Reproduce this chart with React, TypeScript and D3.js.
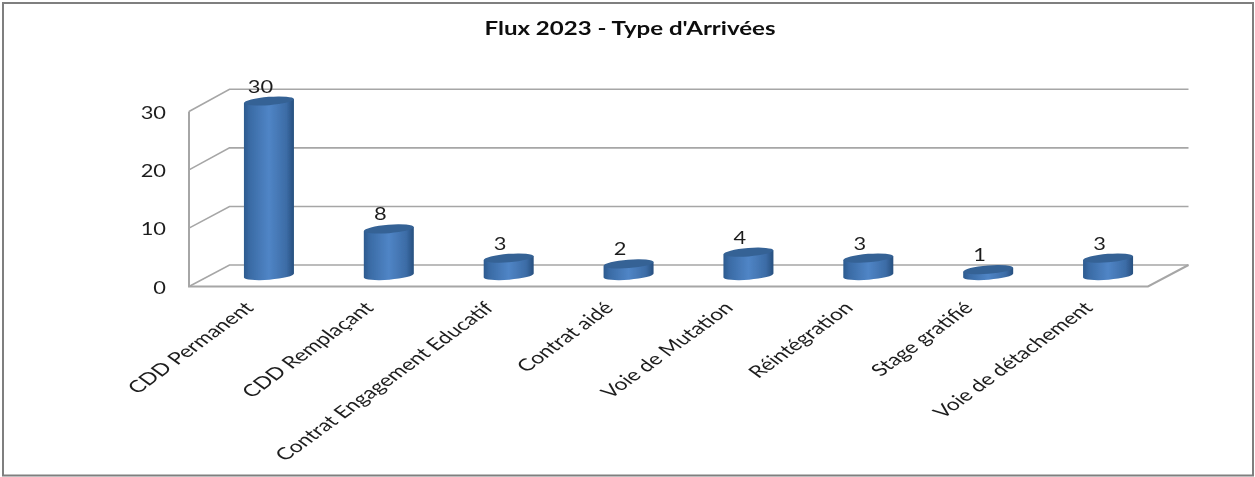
import React from "react";
import * as d3 from "d3";

const categories = ["CDD Permanent", "CDD Remplaçant", "Contrat Engagement Educatif", "Contrat aidé", "Voie de Mutation", "Réintégration", "Stage gratifié", "Voie de détachement"];
const values = [30, 8, 3, 2, 4, 3, 1, 3];
const yTicks = [0, 10, 20, 30];
const titleText = "Flux 2023 - Type d'Arrivées";

const W = 1255, H = 477;
const FONT = "Lato, 'Open Sans', sans-serif";
const TEXT = "#1f1f1f";
const GRID = "#a6a6a6";

// floor geometry of the pseudo-3D box
const frontLeft = 189, frontRight = 1148, depthX = 40.5;
const frontY = d3.scaleLinear().domain([0, 30]).range([286.5, 111.5]);
const backY = d3.scaleLinear().domain([0, 30]).range([265, 89.3]);
const midY = d3.scaleLinear().domain([0, 30]).range([275.5, 101]);
const xBand = d3.scaleBand<string>().domain(categories).range([frontLeft + 20, frontRight + 20]);
const line = d3.line<[number, number]>();
const RX = 25, RY = 4.2, SKEW = 2;

function cylinder(cx: number, top: number, bottom: number) {
  const l = cx - RX, r = cx + RX;
  return `M${l},${top + SKEW} L${l},${bottom + SKEW} A${RX},${RY} -4.5 0 0 ${r},${bottom - SKEW} L${r},${top - SKEW} Z`;
}

export default function App() {
  return (
    <svg width={W} height={H} style={{ position: "absolute", left: 0, top: 0, background: "#fff" }}>
      <defs>
        <linearGradient id="body" x1="0" x2="1" y1="0" y2="0">
          <stop offset="0" stopColor="#2c5a8e" />
          <stop offset="0.12" stopColor="#3a6ba5" />
          <stop offset="0.5" stopColor="#5085c6" />
          <stop offset="0.85" stopColor="#3c6ca6" />
          <stop offset="1" stopColor="#274f7e" />
        </linearGradient>
        <filter id="soft" x="-2%" y="-2%" width="104%" height="104%">
          <feGaussianBlur stdDeviation="0.45" />
        </filter>
      </defs>
      <rect x={3} y={3} width={1250} height={472.5} fill="#fff" stroke="#7f7f7f" strokeWidth={2} />
      <g filter="url(#soft)">
        <text transform="translate(630 35) scale(1.3 1)" textAnchor="middle" fontFamily={FONT} fontSize={18.5} fontWeight={700} fill="#111">{titleText}</text>

        {yTicks.map((t) => (
          <path key={t} fill="none" stroke={GRID} strokeWidth={1.6}
            d={line([[frontLeft, frontY(t)], [frontLeft + depthX, backY(t)], [frontRight + depthX, backY(t)]]) as string} />
        ))}
        <path fill="none" stroke={GRID} strokeWidth={2}
          d={line([[frontLeft, frontY(30)], [frontLeft, frontY(0)], [frontRight, frontY(0)], [frontRight + depthX, backY(0)]]) as string} />

        {yTicks.map((t) => (
          <text key={t} transform={`translate(166 ${frontY(t) + 7}) scale(1.25 1)`} textAnchor="end"
            fontFamily={FONT} fontSize={17.5} fill={TEXT}>{t}</text>
        ))}

        {categories.map((c, i) => {
          const cx = (xBand(c) as number) + xBand.bandwidth() / 2;
          const top = midY(values[i]), bottom = midY(0);
          return (
            <g key={c}>
              <path d={cylinder(cx, top, bottom)} fill="url(#body)" />
              <ellipse cx={cx} cy={top} rx={RX} ry={RY} transform={`rotate(-4.5 ${cx} ${top})`} fill="#356295" />
              <text transform={`translate(${cx - 8.5} ${top - 8.5}) scale(1.25 1)`} textAnchor="middle"
                fontFamily={FONT} fontSize={17.5} fill={TEXT}>{values[i]}</text>
              <text transform={`translate(${cx - 14} 309) scale(1.37 1) rotate(-45)`} textAnchor="end"
                fontFamily={FONT} fontSize={16.8} fill={TEXT}>{c}</text>
            </g>
          );
        })}
      </g>
    </svg>
  );
}
